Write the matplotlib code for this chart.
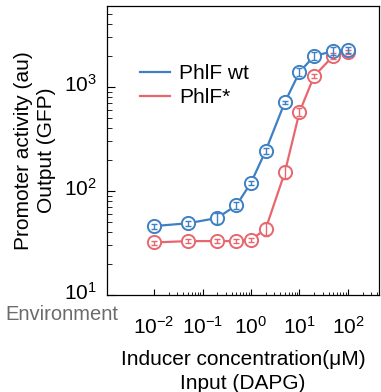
import matplotlib
matplotlib.use("Agg")
import matplotlib.pyplot as plt
from matplotlib.ticker import FixedLocator, NullFormatter
from matplotlib.lines import Line2D
from matplotlib.transforms import ScaledTranslation

# ---- data ----
dapg = [0.01, 0.05, 0.2, 0.5, 1, 2, 5, 10, 20, 50, 100]
wt_mean = [46, 49, 55, 73, 120, 243, 718, 1390, 1990, 2220, 2270]
wt_err = [2.6, 2.7, 7, 6, 5, 16, 24, 120, 170, 200, 150]
mut_mean = [32, 33, 33, 33, 34, 43, 152, 575, 1275, 2000, 2190]
mut_err = [1.4, 1.4, 1.5, 1.5, 1.5, 6, 22, 50, 60, 130, 100]
series_labels = ["PhlF wt", "PhlF*"]
x_major = [1e-2, 1e-1, 1e0, 1e1, 1e2]
x_major_labels = [r"$10^{-2}$", r"$10^{-1}$", r"$10^{0}$", r"$10^{1}$", r"$10^{2}$"]
y_major = [1e1, 1e2, 1e3]
y_major_labels = [r"$10^{1}$", r"$10^{2}$", r"$10^{3}$"]

fam = "Liberation Sans"
plt.rcParams["font.family"] = [fam, "DejaVu Sans"]
plt.rcParams["mathtext.fontset"] = "custom"
plt.rcParams["mathtext.rm"] = fam
plt.rcParams["mathtext.it"] = fam
plt.rcParams["mathtext.sf"] = fam

blue = "#3d80c3"
red = "#e8676f"

fig = plt.figure(figsize=(3.81, 3.92), dpi=100)
ax = fig.add_axes([107/381, 97/392, 272/381, 289/392])

for y, e, c, lab in [(mut_mean, mut_err, red, series_labels[1]),
                     (wt_mean, wt_err, blue, series_labels[0])]:
    ax.plot(dapg, y, color=c, lw=1.6, marker="o", ms=9.5, mfc="white",
            mec=c, mew=1.4, label=lab, zorder=2)
    ax.errorbar(dapg, y, yerr=e, fmt="none", ecolor=c, elinewidth=1.0,
                capsize=2.2, capthick=1.0, zorder=3)

ax.set_xscale("log")
ax.set_yscale("log")
ax.set_xlim(10**-2.97, 10**2.64)
ax.set_ylim(10, 10**3.78)

ax.xaxis.set_major_locator(FixedLocator(x_major))
ax.set_xticklabels(x_major_labels)
xminor = [m * d for d in [1e-2, 1e-1, 1e0, 1e1, 1e2] for m in range(2, 10)]
ax.xaxis.set_minor_locator(FixedLocator([v for v in xminor if v < 10**2.64]))
ax.xaxis.set_minor_formatter(NullFormatter())
ax.yaxis.set_major_locator(FixedLocator(y_major))
ax.set_yticklabels(y_major_labels)
yminor = [m * d for d in [1e1, 1e2, 1e3] for m in range(2, 10)]
ax.yaxis.set_minor_locator(FixedLocator([v for v in yminor if v < 10**3.78]))
ax.yaxis.set_minor_formatter(NullFormatter())

ax.tick_params(axis="x", which="major", direction="in", length=4, width=0.8, pad=15, labelsize=15)
ax.tick_params(axis="x", which="minor", direction="in", length=2.2, width=0.6)
ax.tick_params(axis="y", which="major", direction="in", length=6, width=0.8, pad=7, labelsize=15)
ax.tick_params(axis="y", which="minor", direction="in", length=3.5, width=0.6)
for s in ax.spines.values():
    s.set_linewidth(0.9)
up = ScaledTranslation(0, 4/100, fig.dpi_scale_trans)
for t in ax.get_yticklabels():
    t.set_va("center_baseline")
    t.set_transform(t.get_transform() + up)

ax.set_xlabel("Inducer concentration(\u03bcM)\nInput (DAPG)", fontsize=15, labelpad=9, linespacing=1.35)
ax.set_ylabel("Promoter activity (au)\nOutput (GFP)", fontsize=15, labelpad=6, linespacing=1.25)

handles = [Line2D([], [], color=blue, lw=1.6), Line2D([], [], color=red, lw=1.6)]
ax.legend(handles, series_labels, loc="upper left", bbox_to_anchor=(0.12, 0.80),
          frameon=False, fontsize=15, handlelength=1.45, handletextpad=0.45,
          labelspacing=0.25, borderaxespad=0, borderpad=0)

fig.text(5/381, 1 - 314/392, "Environment", fontsize=14.5, color="#6b6b6b",
         ha="left", va="center")

fig.savefig("out.png", dpi=100)
